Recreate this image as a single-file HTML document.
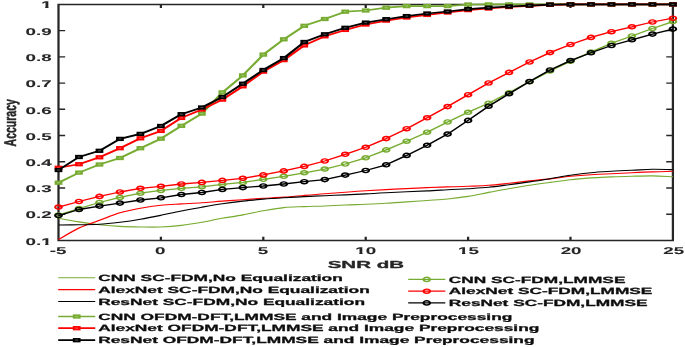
<!DOCTYPE html>
<html><head><meta charset="utf-8"><title>Accuracy vs SNR</title>
<style>html,body{margin:0;padding:0;background:#fff}svg{display:block}text{font-family:"Liberation Sans",Arial,Helvetica,sans-serif;font-weight:bold;text-rendering:geometricPrecision;fill:#262626;stroke:#262626;stroke-width:0.28px;stroke-linejoin:round}.t{stroke-width:0.08px}</style></head><body>
<svg width="685" height="347" viewBox="0 0 685 347">
<rect width="685" height="347" fill="#fff"/>
<defs><clipPath id="one" clipPathUnits="userSpaceOnUse"><path d="M-60,-14H60V-1.320H-60ZM-3.363,-1.420H-1.618V3H-3.363ZM0.127,-1.420H60V3H0.127ZM-60,-1.420H-5.233V3H-60Z"/></clipPath></defs>
<defs><filter id="b" x="0" y="0" width="685" height="347" filterUnits="userSpaceOnUse"><feGaussianBlur stdDeviation="0.45"/></filter></defs><g filter="url(#b)">
<g transform="scale(1.55,1)">
<path d="M37.74,4.4H434.13V240.5H37.74ZM37.74,214.27h4.3M434.13,214.27h-4.3M37.74,188.03h4.3M434.13,188.03h-4.3M37.74,161.80h4.3M434.13,161.80h-4.3M37.74,135.57h4.3M434.13,135.57h-4.3M37.74,109.33h4.3M434.13,109.33h-4.3M37.74,83.10h4.3M434.13,83.10h-4.3M37.74,56.87h4.3M434.13,56.87h-4.3M37.74,30.63h4.3M434.13,30.63h-4.3M103.81,240.5v-3.7M103.81,4.4v3.7M169.87,240.5v-3.7M169.87,4.4v3.7M235.94,240.5v-3.7M235.94,4.4v3.7M302.00,240.5v-3.7M302.00,4.4v3.7M368.06,240.5v-3.7M368.06,4.4v3.7" stroke="#262626" fill="none" stroke-width="1.45" stroke-linejoin="miter"/>
<g fill="none" stroke-width="1.1" stroke-linejoin="round">
<path d="M37.74,218.3C39.94,218.9 46.55,220.8 50.95,221.9C55.36,223.0 59.76,223.9 64.17,224.7C68.57,225.4 72.98,226.0 77.38,226.4C81.78,226.8 86.19,226.9 90.59,227.0C95.00,227.1 99.40,227.3 103.81,227.0C108.21,226.7 112.62,226.2 117.02,225.4C121.42,224.6 125.83,223.5 130.23,222.3C134.64,221.1 139.04,219.5 143.45,218.3C147.85,217.1 152.25,216.2 156.66,214.9C161.06,213.7 165.47,212.0 169.87,210.8C174.28,209.6 178.68,208.3 183.08,207.6C187.49,206.9 191.89,206.9 196.30,206.6C200.70,206.3 205.11,206.3 209.51,206.0C213.91,205.7 218.32,205.3 222.72,205.0C227.13,204.7 231.53,204.6 235.94,204.3C240.34,204.0 244.74,203.7 249.15,203.3C253.55,202.9 257.96,202.4 262.36,201.9C266.77,201.4 271.17,201.0 275.57,200.5C279.98,200.0 284.38,199.7 288.79,199.0C293.19,198.3 297.60,197.5 302.00,196.4C306.40,195.3 310.81,193.7 315.21,192.4C319.62,191.1 324.02,189.9 328.43,188.7C332.83,187.5 337.23,186.4 341.64,185.3C346.04,184.2 350.45,183.3 354.85,182.4C359.26,181.5 363.66,180.4 368.06,179.7C372.47,178.9 376.87,178.4 381.28,177.9C385.68,177.4 390.09,177.2 394.49,176.9C398.89,176.6 403.30,176.5 407.70,176.3C412.11,176.1 416.51,175.8 420.92,175.9C425.32,176.0 431.93,176.6 434.13,176.7" stroke="#77AC30"/>
<path d="M37.74,239.5C39.94,237.6 46.55,231.2 50.95,228.0C55.36,224.8 59.76,222.8 64.17,220.3C68.57,217.8 72.98,214.8 77.38,212.8C81.78,210.8 86.19,209.5 90.59,208.2C95.00,206.9 99.40,205.9 103.81,205.2C108.21,204.5 112.62,204.3 117.02,203.9C121.42,203.5 125.83,203.3 130.23,202.8C134.64,202.3 139.04,201.6 143.45,201.1C147.85,200.6 152.25,200.2 156.66,199.7C161.06,199.2 165.47,198.7 169.87,198.3C174.28,197.9 178.68,197.6 183.08,197.1C187.49,196.6 191.89,196.0 196.30,195.4C200.70,194.8 205.11,194.2 209.51,193.7C213.91,193.2 218.32,192.7 222.72,192.2C227.13,191.7 231.53,191.2 235.94,190.8C240.34,190.4 244.74,190.0 249.15,189.6C253.55,189.2 257.96,188.9 262.36,188.6C266.77,188.3 271.17,187.9 275.57,187.6C279.98,187.3 284.38,187.1 288.79,186.9C293.19,186.7 297.60,186.6 302.00,186.3C306.40,186.0 310.81,185.8 315.21,185.3C319.62,184.8 324.02,184.0 328.43,183.3C332.83,182.6 337.23,181.6 341.64,180.9C346.04,180.2 350.45,179.7 354.85,178.9C359.26,178.1 363.66,177.0 368.06,176.3C372.47,175.6 376.87,175.1 381.28,174.7C385.68,174.3 390.09,174.0 394.49,173.7C398.89,173.4 403.30,173.0 407.70,172.7C412.11,172.4 416.51,172.1 420.92,171.9C425.32,171.7 431.93,171.4 434.13,171.3" stroke="#FF0000"/>
<path d="M37.74,225.0C39.94,225.0 46.55,224.9 50.95,224.8C55.36,224.7 59.76,224.7 64.17,224.3C68.57,223.9 72.98,223.1 77.38,222.3C81.78,221.5 86.19,220.5 90.59,219.3C95.00,218.1 99.40,216.7 103.81,215.3C108.21,213.9 112.62,212.3 117.02,211.0C121.42,209.7 125.83,208.4 130.23,207.2C134.64,206.0 139.04,204.8 143.45,203.8C147.85,202.8 152.25,201.9 156.66,201.1C161.06,200.3 165.47,199.7 169.87,199.1C174.28,198.5 178.68,198.1 183.08,197.7C187.49,197.3 191.89,196.9 196.30,196.6C200.70,196.3 205.11,196.0 209.51,195.7C213.91,195.4 218.32,195.2 222.72,194.9C227.13,194.6 231.53,194.2 235.94,193.9C240.34,193.6 244.74,193.2 249.15,192.8C253.55,192.5 257.96,192.1 262.36,191.8C266.77,191.5 271.17,191.2 275.57,190.9C279.98,190.6 284.38,190.1 288.79,189.7C293.19,189.3 297.60,189.1 302.00,188.7C306.40,188.3 310.81,188.0 315.21,187.3C319.62,186.6 324.02,185.6 328.43,184.7C332.83,183.8 337.23,182.9 341.64,181.9C346.04,180.9 350.45,179.8 354.85,178.7C359.26,177.6 363.66,176.3 368.06,175.3C372.47,174.3 376.87,173.4 381.28,172.7C385.68,172.0 390.09,171.7 394.49,171.3C398.89,170.9 403.30,170.6 407.70,170.3C412.11,170.0 416.51,169.4 420.92,169.3C425.32,169.2 431.93,169.6 434.13,169.7" stroke="#000000"/>
</g>
<g stroke="#77AC30" fill="none"><polyline points="37.74,215.0 50.95,208.5 64.17,202.5 77.38,197.4 90.59,193.2 103.81,190.4 117.02,188.3 130.23,186.8 143.45,184.4 156.66,182.4 169.87,179.3 183.08,176.3 196.30,172.8 209.51,169.1 222.72,164.0 235.94,157.8 249.15,149.9 262.36,141.2 275.57,132.2 288.79,122.0 302.00,112.3 315.21,103.2 328.43,92.8 341.64,81.7 354.85,71.0 368.06,61.3 381.28,52.1 394.49,43.3 407.70,36.0 420.92,28.5 434.13,21.6" stroke-width="1.3" stroke-linejoin="round"/><g stroke-width="1.4"><circle cx="37.74" cy="215.0" r="2.1"/><circle cx="50.95" cy="208.5" r="2.1"/><circle cx="64.17" cy="202.5" r="2.1"/><circle cx="77.38" cy="197.4" r="2.1"/><circle cx="90.59" cy="193.2" r="2.1"/><circle cx="103.81" cy="190.4" r="2.1"/><circle cx="117.02" cy="188.3" r="2.1"/><circle cx="130.23" cy="186.8" r="2.1"/><circle cx="143.45" cy="184.4" r="2.1"/><circle cx="156.66" cy="182.4" r="2.1"/><circle cx="169.87" cy="179.3" r="2.1"/><circle cx="183.08" cy="176.3" r="2.1"/><circle cx="196.30" cy="172.8" r="2.1"/><circle cx="209.51" cy="169.1" r="2.1"/><circle cx="222.72" cy="164.0" r="2.1"/><circle cx="235.94" cy="157.8" r="2.1"/><circle cx="249.15" cy="149.9" r="2.1"/><circle cx="262.36" cy="141.2" r="2.1"/><circle cx="275.57" cy="132.2" r="2.1"/><circle cx="288.79" cy="122.0" r="2.1"/><circle cx="302.00" cy="112.3" r="2.1"/><circle cx="315.21" cy="103.2" r="2.1"/><circle cx="328.43" cy="92.8" r="2.1"/><circle cx="341.64" cy="81.7" r="2.1"/><circle cx="354.85" cy="71.0" r="2.1"/><circle cx="368.06" cy="61.3" r="2.1"/><circle cx="381.28" cy="52.1" r="2.1"/><circle cx="394.49" cy="43.3" r="2.1"/><circle cx="407.70" cy="36.0" r="2.1"/><circle cx="420.92" cy="28.5" r="2.1"/><circle cx="434.13" cy="21.6" r="2.1"/></g></g>
<g stroke="#FF0000" fill="none"><polyline points="37.74,207.1 50.95,201.5 64.17,196.4 77.38,192.0 90.59,188.3 103.81,186.3 117.02,184.0 130.23,182.4 143.45,180.4 156.66,178.3 169.87,174.9 183.08,170.9 196.30,166.4 209.51,161.0 222.72,154.3 235.94,147.3 249.15,138.6 262.36,128.7 275.57,117.8 288.79,106.6 302.00,94.7 315.21,83.0 328.43,72.4 341.64,62.0 354.85,52.6 368.06,44.5 381.28,37.4 394.49,31.7 407.70,26.8 420.92,22.0 434.13,18.2" stroke-width="1.3" stroke-linejoin="round"/><g stroke-width="1.4"><circle cx="37.74" cy="207.1" r="2.1"/><circle cx="50.95" cy="201.5" r="2.1"/><circle cx="64.17" cy="196.4" r="2.1"/><circle cx="77.38" cy="192.0" r="2.1"/><circle cx="90.59" cy="188.3" r="2.1"/><circle cx="103.81" cy="186.3" r="2.1"/><circle cx="117.02" cy="184.0" r="2.1"/><circle cx="130.23" cy="182.4" r="2.1"/><circle cx="143.45" cy="180.4" r="2.1"/><circle cx="156.66" cy="178.3" r="2.1"/><circle cx="169.87" cy="174.9" r="2.1"/><circle cx="183.08" cy="170.9" r="2.1"/><circle cx="196.30" cy="166.4" r="2.1"/><circle cx="209.51" cy="161.0" r="2.1"/><circle cx="222.72" cy="154.3" r="2.1"/><circle cx="235.94" cy="147.3" r="2.1"/><circle cx="249.15" cy="138.6" r="2.1"/><circle cx="262.36" cy="128.7" r="2.1"/><circle cx="275.57" cy="117.8" r="2.1"/><circle cx="288.79" cy="106.6" r="2.1"/><circle cx="302.00" cy="94.7" r="2.1"/><circle cx="315.21" cy="83.0" r="2.1"/><circle cx="328.43" cy="72.4" r="2.1"/><circle cx="341.64" cy="62.0" r="2.1"/><circle cx="354.85" cy="52.6" r="2.1"/><circle cx="368.06" cy="44.5" r="2.1"/><circle cx="381.28" cy="37.4" r="2.1"/><circle cx="394.49" cy="31.7" r="2.1"/><circle cx="407.70" cy="26.8" r="2.1"/><circle cx="420.92" cy="22.0" r="2.1"/><circle cx="434.13" cy="18.2" r="2.1"/></g></g>
<g stroke="#000000" fill="none"><polyline points="37.74,215.6 50.95,209.5 64.17,206.1 77.38,203.1 90.59,200.0 103.81,197.8 117.02,194.5 130.23,192.5 143.45,189.4 156.66,187.6 169.87,186.0 183.08,184.0 196.30,181.7 209.51,179.6 222.72,175.1 235.94,170.5 249.15,164.8 262.36,155.4 275.57,145.3 288.79,134.1 302.00,120.4 315.21,106.2 328.43,93.7 341.64,81.6 354.85,70.0 368.06,60.6 381.28,52.8 394.49,45.5 407.70,39.8 420.92,34.1 434.13,29.1" stroke-width="1.3" stroke-linejoin="round"/><g stroke-width="1.4"><circle cx="37.74" cy="215.6" r="2.1"/><circle cx="50.95" cy="209.5" r="2.1"/><circle cx="64.17" cy="206.1" r="2.1"/><circle cx="77.38" cy="203.1" r="2.1"/><circle cx="90.59" cy="200.0" r="2.1"/><circle cx="103.81" cy="197.8" r="2.1"/><circle cx="117.02" cy="194.5" r="2.1"/><circle cx="130.23" cy="192.5" r="2.1"/><circle cx="143.45" cy="189.4" r="2.1"/><circle cx="156.66" cy="187.6" r="2.1"/><circle cx="169.87" cy="186.0" r="2.1"/><circle cx="183.08" cy="184.0" r="2.1"/><circle cx="196.30" cy="181.7" r="2.1"/><circle cx="209.51" cy="179.6" r="2.1"/><circle cx="222.72" cy="175.1" r="2.1"/><circle cx="235.94" cy="170.5" r="2.1"/><circle cx="249.15" cy="164.8" r="2.1"/><circle cx="262.36" cy="155.4" r="2.1"/><circle cx="275.57" cy="145.3" r="2.1"/><circle cx="288.79" cy="134.1" r="2.1"/><circle cx="302.00" cy="120.4" r="2.1"/><circle cx="315.21" cy="106.2" r="2.1"/><circle cx="328.43" cy="93.7" r="2.1"/><circle cx="341.64" cy="81.6" r="2.1"/><circle cx="354.85" cy="70.0" r="2.1"/><circle cx="368.06" cy="60.6" r="2.1"/><circle cx="381.28" cy="52.8" r="2.1"/><circle cx="394.49" cy="45.5" r="2.1"/><circle cx="407.70" cy="39.8" r="2.1"/><circle cx="420.92" cy="34.1" r="2.1"/><circle cx="434.13" cy="29.1" r="2.1"/></g></g>
<polyline points="37.74,182.7 50.95,172.6 64.17,164.5 77.38,158.0 90.59,148.2 103.81,138.7 117.02,125.8 130.23,113.6 143.45,92.4 156.66,75.4 169.87,54.6 183.08,39.3 196.30,25.8 209.51,19.0 222.72,11.7 235.94,10.5 249.15,7.7 262.36,6.1 275.57,6.1 288.79,6.1 302.00,4.5 315.21,4.4 328.43,4.4 341.64,4.4 354.85,4.4 368.06,4.4 381.28,4.4 394.49,4.4 407.70,4.4 420.92,4.4 434.13,4.4" stroke="#77AC30" fill="none" stroke-width="1.7" stroke-linejoin="round"/><g><rect x="35.24" y="180.55" width="5.0" height="4.3" fill="#77AC30"/><rect x="36.84" y="182.15" width="1.8" height="1.1" fill="#fff" fill-opacity="0.3"/><rect x="48.45" y="170.45" width="5.0" height="4.3" fill="#77AC30"/><rect x="50.05" y="172.05" width="1.8" height="1.1" fill="#fff" fill-opacity="0.3"/><rect x="61.67" y="162.35" width="5.0" height="4.3" fill="#77AC30"/><rect x="63.27" y="163.95" width="1.8" height="1.1" fill="#fff" fill-opacity="0.3"/><rect x="74.88" y="155.85" width="5.0" height="4.3" fill="#77AC30"/><rect x="76.48" y="157.45" width="1.8" height="1.1" fill="#fff" fill-opacity="0.3"/><rect x="88.09" y="146.05" width="5.0" height="4.3" fill="#77AC30"/><rect x="89.69" y="147.65" width="1.8" height="1.1" fill="#fff" fill-opacity="0.3"/><rect x="101.31" y="136.55" width="5.0" height="4.3" fill="#77AC30"/><rect x="102.91" y="138.15" width="1.8" height="1.1" fill="#fff" fill-opacity="0.3"/><rect x="114.52" y="123.65" width="5.0" height="4.3" fill="#77AC30"/><rect x="116.12" y="125.25" width="1.8" height="1.1" fill="#fff" fill-opacity="0.3"/><rect x="127.73" y="111.45" width="5.0" height="4.3" fill="#77AC30"/><rect x="129.33" y="113.05" width="1.8" height="1.1" fill="#fff" fill-opacity="0.3"/><rect x="140.95" y="90.25" width="5.0" height="4.3" fill="#77AC30"/><rect x="142.55" y="91.85" width="1.8" height="1.1" fill="#fff" fill-opacity="0.3"/><rect x="154.16" y="73.25" width="5.0" height="4.3" fill="#77AC30"/><rect x="155.76" y="74.85" width="1.8" height="1.1" fill="#fff" fill-opacity="0.3"/><rect x="167.37" y="52.45" width="5.0" height="4.3" fill="#77AC30"/><rect x="168.97" y="54.05" width="1.8" height="1.1" fill="#fff" fill-opacity="0.3"/><rect x="180.58" y="37.15" width="5.0" height="4.3" fill="#77AC30"/><rect x="182.18" y="38.75" width="1.8" height="1.1" fill="#fff" fill-opacity="0.3"/><rect x="193.80" y="23.65" width="5.0" height="4.3" fill="#77AC30"/><rect x="195.40" y="25.25" width="1.8" height="1.1" fill="#fff" fill-opacity="0.3"/><rect x="207.01" y="16.85" width="5.0" height="4.3" fill="#77AC30"/><rect x="208.61" y="18.45" width="1.8" height="1.1" fill="#fff" fill-opacity="0.3"/><rect x="220.22" y="9.55" width="5.0" height="4.3" fill="#77AC30"/><rect x="221.82" y="11.15" width="1.8" height="1.1" fill="#fff" fill-opacity="0.3"/><rect x="233.44" y="8.35" width="5.0" height="4.3" fill="#77AC30"/><rect x="235.04" y="9.95" width="1.8" height="1.1" fill="#fff" fill-opacity="0.3"/><rect x="246.65" y="5.55" width="5.0" height="4.3" fill="#77AC30"/><rect x="248.25" y="7.15" width="1.8" height="1.1" fill="#fff" fill-opacity="0.3"/><rect x="259.86" y="3.95" width="5.0" height="4.3" fill="#77AC30"/><rect x="261.46" y="5.55" width="1.8" height="1.1" fill="#fff" fill-opacity="0.3"/><rect x="273.07" y="3.95" width="5.0" height="4.3" fill="#77AC30"/><rect x="274.67" y="5.55" width="1.8" height="1.1" fill="#fff" fill-opacity="0.3"/><rect x="286.29" y="3.95" width="5.0" height="4.3" fill="#77AC30"/><rect x="287.89" y="5.55" width="1.8" height="1.1" fill="#fff" fill-opacity="0.3"/><rect x="299.50" y="2.35" width="5.0" height="4.3" fill="#77AC30"/><rect x="301.10" y="3.95" width="1.8" height="1.1" fill="#fff" fill-opacity="0.3"/><rect x="312.71" y="2.25" width="5.0" height="4.3" fill="#77AC30"/><rect x="314.31" y="3.85" width="1.8" height="1.1" fill="#fff" fill-opacity="0.3"/><rect x="325.93" y="2.25" width="5.0" height="4.3" fill="#77AC30"/><rect x="327.53" y="3.85" width="1.8" height="1.1" fill="#fff" fill-opacity="0.3"/><rect x="339.14" y="2.25" width="5.0" height="4.3" fill="#77AC30"/><rect x="340.74" y="3.85" width="1.8" height="1.1" fill="#fff" fill-opacity="0.3"/><rect x="352.35" y="2.25" width="5.0" height="4.3" fill="#77AC30"/><rect x="353.95" y="3.85" width="1.8" height="1.1" fill="#fff" fill-opacity="0.3"/><rect x="365.56" y="2.25" width="5.0" height="4.3" fill="#77AC30"/><rect x="367.16" y="3.85" width="1.8" height="1.1" fill="#fff" fill-opacity="0.3"/><rect x="378.78" y="2.25" width="5.0" height="4.3" fill="#77AC30"/><rect x="380.38" y="3.85" width="1.8" height="1.1" fill="#fff" fill-opacity="0.3"/><rect x="391.99" y="2.25" width="5.0" height="4.3" fill="#77AC30"/><rect x="393.59" y="3.85" width="1.8" height="1.1" fill="#fff" fill-opacity="0.3"/><rect x="405.20" y="2.25" width="5.0" height="4.3" fill="#77AC30"/><rect x="406.80" y="3.85" width="1.8" height="1.1" fill="#fff" fill-opacity="0.3"/><rect x="418.42" y="2.25" width="5.0" height="4.3" fill="#77AC30"/><rect x="420.02" y="3.85" width="1.8" height="1.1" fill="#fff" fill-opacity="0.3"/><rect x="431.63" y="2.25" width="5.0" height="4.3" fill="#77AC30"/><rect x="433.23" y="3.85" width="1.8" height="1.1" fill="#fff" fill-opacity="0.3"/></g>
<polyline points="37.74,167.8 50.95,164.2 64.17,157.3 77.38,148.2 90.59,138.3 103.81,130.9 117.02,117.9 130.23,109.5 143.45,99.6 156.66,86.3 169.87,71.6 183.08,60.1 196.30,45.4 209.51,36.3 222.72,29.9 235.94,24.5 249.15,20.6 262.36,17.5 275.57,14.9 288.79,12.5 302.00,10.1 315.21,8.5 328.43,7.0 341.64,5.8 354.85,4.8 368.06,4.4 381.28,4.4 394.49,4.4 407.70,4.4 420.92,4.4 434.13,4.4" stroke="#FF0000" fill="none" stroke-width="1.7" stroke-linejoin="round"/><g><rect x="35.24" y="165.65" width="5.0" height="4.3" fill="#FF0000"/><rect x="36.84" y="167.25" width="1.8" height="1.1" fill="#fff" fill-opacity="0.3"/><rect x="48.45" y="162.05" width="5.0" height="4.3" fill="#FF0000"/><rect x="50.05" y="163.65" width="1.8" height="1.1" fill="#fff" fill-opacity="0.3"/><rect x="61.67" y="155.15" width="5.0" height="4.3" fill="#FF0000"/><rect x="63.27" y="156.75" width="1.8" height="1.1" fill="#fff" fill-opacity="0.3"/><rect x="74.88" y="146.05" width="5.0" height="4.3" fill="#FF0000"/><rect x="76.48" y="147.65" width="1.8" height="1.1" fill="#fff" fill-opacity="0.3"/><rect x="88.09" y="136.15" width="5.0" height="4.3" fill="#FF0000"/><rect x="89.69" y="137.75" width="1.8" height="1.1" fill="#fff" fill-opacity="0.3"/><rect x="101.31" y="128.75" width="5.0" height="4.3" fill="#FF0000"/><rect x="102.91" y="130.35" width="1.8" height="1.1" fill="#fff" fill-opacity="0.3"/><rect x="114.52" y="115.75" width="5.0" height="4.3" fill="#FF0000"/><rect x="116.12" y="117.35" width="1.8" height="1.1" fill="#fff" fill-opacity="0.3"/><rect x="127.73" y="107.35" width="5.0" height="4.3" fill="#FF0000"/><rect x="129.33" y="108.95" width="1.8" height="1.1" fill="#fff" fill-opacity="0.3"/><rect x="140.95" y="97.45" width="5.0" height="4.3" fill="#FF0000"/><rect x="142.55" y="99.05" width="1.8" height="1.1" fill="#fff" fill-opacity="0.3"/><rect x="154.16" y="84.15" width="5.0" height="4.3" fill="#FF0000"/><rect x="155.76" y="85.75" width="1.8" height="1.1" fill="#fff" fill-opacity="0.3"/><rect x="167.37" y="69.45" width="5.0" height="4.3" fill="#FF0000"/><rect x="168.97" y="71.05" width="1.8" height="1.1" fill="#fff" fill-opacity="0.3"/><rect x="180.58" y="57.95" width="5.0" height="4.3" fill="#FF0000"/><rect x="182.18" y="59.55" width="1.8" height="1.1" fill="#fff" fill-opacity="0.3"/><rect x="193.80" y="43.25" width="5.0" height="4.3" fill="#FF0000"/><rect x="195.40" y="44.85" width="1.8" height="1.1" fill="#fff" fill-opacity="0.3"/><rect x="207.01" y="34.15" width="5.0" height="4.3" fill="#FF0000"/><rect x="208.61" y="35.75" width="1.8" height="1.1" fill="#fff" fill-opacity="0.3"/><rect x="220.22" y="27.75" width="5.0" height="4.3" fill="#FF0000"/><rect x="221.82" y="29.35" width="1.8" height="1.1" fill="#fff" fill-opacity="0.3"/><rect x="233.44" y="22.35" width="5.0" height="4.3" fill="#FF0000"/><rect x="235.04" y="23.95" width="1.8" height="1.1" fill="#fff" fill-opacity="0.3"/><rect x="246.65" y="18.45" width="5.0" height="4.3" fill="#FF0000"/><rect x="248.25" y="20.05" width="1.8" height="1.1" fill="#fff" fill-opacity="0.3"/><rect x="259.86" y="15.35" width="5.0" height="4.3" fill="#FF0000"/><rect x="261.46" y="16.95" width="1.8" height="1.1" fill="#fff" fill-opacity="0.3"/><rect x="273.07" y="12.75" width="5.0" height="4.3" fill="#FF0000"/><rect x="274.67" y="14.35" width="1.8" height="1.1" fill="#fff" fill-opacity="0.3"/><rect x="286.29" y="10.35" width="5.0" height="4.3" fill="#FF0000"/><rect x="287.89" y="11.95" width="1.8" height="1.1" fill="#fff" fill-opacity="0.3"/><rect x="299.50" y="7.95" width="5.0" height="4.3" fill="#FF0000"/><rect x="301.10" y="9.55" width="1.8" height="1.1" fill="#fff" fill-opacity="0.3"/><rect x="312.71" y="6.35" width="5.0" height="4.3" fill="#FF0000"/><rect x="314.31" y="7.95" width="1.8" height="1.1" fill="#fff" fill-opacity="0.3"/><rect x="325.93" y="4.85" width="5.0" height="4.3" fill="#FF0000"/><rect x="327.53" y="6.45" width="1.8" height="1.1" fill="#fff" fill-opacity="0.3"/><rect x="339.14" y="3.65" width="5.0" height="4.3" fill="#FF0000"/><rect x="340.74" y="5.25" width="1.8" height="1.1" fill="#fff" fill-opacity="0.3"/><rect x="352.35" y="2.65" width="5.0" height="4.3" fill="#FF0000"/><rect x="353.95" y="4.25" width="1.8" height="1.1" fill="#fff" fill-opacity="0.3"/><rect x="365.56" y="2.25" width="5.0" height="4.3" fill="#FF0000"/><rect x="367.16" y="3.85" width="1.8" height="1.1" fill="#fff" fill-opacity="0.3"/><rect x="378.78" y="2.25" width="5.0" height="4.3" fill="#FF0000"/><rect x="380.38" y="3.85" width="1.8" height="1.1" fill="#fff" fill-opacity="0.3"/><rect x="391.99" y="2.25" width="5.0" height="4.3" fill="#FF0000"/><rect x="393.59" y="3.85" width="1.8" height="1.1" fill="#fff" fill-opacity="0.3"/><rect x="405.20" y="2.25" width="5.0" height="4.3" fill="#FF0000"/><rect x="406.80" y="3.85" width="1.8" height="1.1" fill="#fff" fill-opacity="0.3"/><rect x="418.42" y="2.25" width="5.0" height="4.3" fill="#FF0000"/><rect x="420.02" y="3.85" width="1.8" height="1.1" fill="#fff" fill-opacity="0.3"/><rect x="431.63" y="2.25" width="5.0" height="4.3" fill="#FF0000"/><rect x="433.23" y="3.85" width="1.8" height="1.1" fill="#fff" fill-opacity="0.3"/></g>
<polyline points="37.74,170.0 50.95,157.0 64.17,150.8 77.38,138.9 90.59,133.9 103.81,126.0 117.02,114.2 130.23,107.5 143.45,97.0 156.66,83.7 169.87,70.0 183.08,58.1 196.30,42.0 209.51,34.3 222.72,27.8 235.94,22.6 249.15,19.2 262.36,16.1 275.57,13.5 288.79,11.5 302.00,9.1 315.21,7.7 328.43,6.5 341.64,5.6 354.85,4.6 368.06,4.4 381.28,4.4 394.49,4.4 407.70,4.4 420.92,4.4 434.13,4.4" stroke="#000000" fill="none" stroke-width="1.7" stroke-linejoin="round"/><g><rect x="35.24" y="167.85" width="5.0" height="4.3" fill="#000000"/><rect x="36.84" y="169.45" width="1.8" height="1.1" fill="#fff" fill-opacity="0.3"/><rect x="48.45" y="154.85" width="5.0" height="4.3" fill="#000000"/><rect x="50.05" y="156.45" width="1.8" height="1.1" fill="#fff" fill-opacity="0.3"/><rect x="61.67" y="148.65" width="5.0" height="4.3" fill="#000000"/><rect x="63.27" y="150.25" width="1.8" height="1.1" fill="#fff" fill-opacity="0.3"/><rect x="74.88" y="136.75" width="5.0" height="4.3" fill="#000000"/><rect x="76.48" y="138.35" width="1.8" height="1.1" fill="#fff" fill-opacity="0.3"/><rect x="88.09" y="131.75" width="5.0" height="4.3" fill="#000000"/><rect x="89.69" y="133.35" width="1.8" height="1.1" fill="#fff" fill-opacity="0.3"/><rect x="101.31" y="123.85" width="5.0" height="4.3" fill="#000000"/><rect x="102.91" y="125.45" width="1.8" height="1.1" fill="#fff" fill-opacity="0.3"/><rect x="114.52" y="112.05" width="5.0" height="4.3" fill="#000000"/><rect x="116.12" y="113.65" width="1.8" height="1.1" fill="#fff" fill-opacity="0.3"/><rect x="127.73" y="105.35" width="5.0" height="4.3" fill="#000000"/><rect x="129.33" y="106.95" width="1.8" height="1.1" fill="#fff" fill-opacity="0.3"/><rect x="140.95" y="94.85" width="5.0" height="4.3" fill="#000000"/><rect x="142.55" y="96.45" width="1.8" height="1.1" fill="#fff" fill-opacity="0.3"/><rect x="154.16" y="81.55" width="5.0" height="4.3" fill="#000000"/><rect x="155.76" y="83.15" width="1.8" height="1.1" fill="#fff" fill-opacity="0.3"/><rect x="167.37" y="67.85" width="5.0" height="4.3" fill="#000000"/><rect x="168.97" y="69.45" width="1.8" height="1.1" fill="#fff" fill-opacity="0.3"/><rect x="180.58" y="55.95" width="5.0" height="4.3" fill="#000000"/><rect x="182.18" y="57.55" width="1.8" height="1.1" fill="#fff" fill-opacity="0.3"/><rect x="193.80" y="39.85" width="5.0" height="4.3" fill="#000000"/><rect x="195.40" y="41.45" width="1.8" height="1.1" fill="#fff" fill-opacity="0.3"/><rect x="207.01" y="32.15" width="5.0" height="4.3" fill="#000000"/><rect x="208.61" y="33.75" width="1.8" height="1.1" fill="#fff" fill-opacity="0.3"/><rect x="220.22" y="25.65" width="5.0" height="4.3" fill="#000000"/><rect x="221.82" y="27.25" width="1.8" height="1.1" fill="#fff" fill-opacity="0.3"/><rect x="233.44" y="20.45" width="5.0" height="4.3" fill="#000000"/><rect x="235.04" y="22.05" width="1.8" height="1.1" fill="#fff" fill-opacity="0.3"/><rect x="246.65" y="17.05" width="5.0" height="4.3" fill="#000000"/><rect x="248.25" y="18.65" width="1.8" height="1.1" fill="#fff" fill-opacity="0.3"/><rect x="259.86" y="13.95" width="5.0" height="4.3" fill="#000000"/><rect x="261.46" y="15.55" width="1.8" height="1.1" fill="#fff" fill-opacity="0.3"/><rect x="273.07" y="11.35" width="5.0" height="4.3" fill="#000000"/><rect x="274.67" y="12.95" width="1.8" height="1.1" fill="#fff" fill-opacity="0.3"/><rect x="286.29" y="9.35" width="5.0" height="4.3" fill="#000000"/><rect x="287.89" y="10.95" width="1.8" height="1.1" fill="#fff" fill-opacity="0.3"/><rect x="299.50" y="6.95" width="5.0" height="4.3" fill="#000000"/><rect x="301.10" y="8.55" width="1.8" height="1.1" fill="#fff" fill-opacity="0.3"/><rect x="312.71" y="5.55" width="5.0" height="4.3" fill="#000000"/><rect x="314.31" y="7.15" width="1.8" height="1.1" fill="#fff" fill-opacity="0.3"/><rect x="325.93" y="4.35" width="5.0" height="4.3" fill="#000000"/><rect x="327.53" y="5.95" width="1.8" height="1.1" fill="#fff" fill-opacity="0.3"/><rect x="339.14" y="3.45" width="5.0" height="4.3" fill="#000000"/><rect x="340.74" y="5.05" width="1.8" height="1.1" fill="#fff" fill-opacity="0.3"/><rect x="352.35" y="2.45" width="5.0" height="4.3" fill="#000000"/><rect x="353.95" y="4.05" width="1.8" height="1.1" fill="#fff" fill-opacity="0.3"/><rect x="365.56" y="2.25" width="5.0" height="4.3" fill="#000000"/><rect x="367.16" y="3.85" width="1.8" height="1.1" fill="#fff" fill-opacity="0.3"/><rect x="378.78" y="2.25" width="5.0" height="4.3" fill="#000000"/><rect x="380.38" y="3.85" width="1.8" height="1.1" fill="#fff" fill-opacity="0.3"/><rect x="391.99" y="2.25" width="5.0" height="4.3" fill="#000000"/><rect x="393.59" y="3.85" width="1.8" height="1.1" fill="#fff" fill-opacity="0.3"/><rect x="405.20" y="2.25" width="5.0" height="4.3" fill="#000000"/><rect x="406.80" y="3.85" width="1.8" height="1.1" fill="#fff" fill-opacity="0.3"/><rect x="418.42" y="2.25" width="5.0" height="4.3" fill="#000000"/><rect x="420.02" y="3.85" width="1.8" height="1.1" fill="#fff" fill-opacity="0.3"/><rect x="431.63" y="2.25" width="5.0" height="4.3" fill="#000000"/><rect x="433.23" y="3.85" width="1.8" height="1.1" fill="#fff" fill-opacity="0.3"/></g>
<path d="M37.55,277.8H61.42" stroke="#77AC30" stroke-width="1.1"/>
<path d="M37.55,289.6H61.42" stroke="#FF0000" stroke-width="1.1"/>
<path d="M37.55,301.5H61.42" stroke="#000000" stroke-width="1.1"/>
<path d="M37.55,316.5H61.42" stroke="#77AC30" stroke-width="1.7"/>
<rect x="46.98" y="314.35" width="5.0" height="4.3" fill="#77AC30"/><rect x="48.58" y="315.95" width="1.8" height="1.1" fill="#fff" fill-opacity="0.3"/>
<path d="M37.55,328.2H61.42" stroke="#FF0000" stroke-width="1.7"/>
<rect x="46.98" y="326.05" width="5.0" height="4.3" fill="#FF0000"/><rect x="48.58" y="327.65" width="1.8" height="1.1" fill="#fff" fill-opacity="0.3"/>
<path d="M37.55,340.2H61.42" stroke="#000000" stroke-width="1.7"/>
<rect x="46.98" y="338.05" width="5.0" height="4.3" fill="#000000"/><rect x="48.58" y="339.65" width="1.8" height="1.1" fill="#fff" fill-opacity="0.3"/>
<g stroke="#77AC30" fill="none"><path d="M263.35,279.4H287.29" stroke-width="1.3"/><g stroke-width="1.4"><circle cx="275.32" cy="279.4" r="2.1"/></g></g>
<g stroke="#FF0000" fill="none"><path d="M263.35,291.2H287.29" stroke-width="1.3"/><g stroke-width="1.4"><circle cx="275.32" cy="291.2" r="2.1"/></g></g>
<g stroke="#000000" fill="none"><path d="M263.35,302.9H287.29" stroke-width="1.3"/><g stroke-width="1.4"><circle cx="275.32" cy="302.9" r="2.1"/></g></g>
</g>
<text transform="translate(51.60,244.70) scale(1.915,1)" font-size="9.8" text-anchor="end" class="t" clip-path="url(#one)">0.1</text>
<text transform="translate(51.60,218.47) scale(1.915,1)" font-size="9.8" text-anchor="end" class="t">0.2</text>
<text transform="translate(51.60,192.23) scale(1.915,1)" font-size="9.8" text-anchor="end" class="t">0.3</text>
<text transform="translate(51.60,166.00) scale(1.915,1)" font-size="9.8" text-anchor="end" class="t">0.4</text>
<text transform="translate(51.60,139.77) scale(1.915,1)" font-size="9.8" text-anchor="end" class="t">0.5</text>
<text transform="translate(51.60,113.53) scale(1.915,1)" font-size="9.8" text-anchor="end" class="t">0.6</text>
<text transform="translate(51.60,87.30) scale(1.915,1)" font-size="9.8" text-anchor="end" class="t">0.7</text>
<text transform="translate(51.60,61.07) scale(1.915,1)" font-size="9.8" text-anchor="end" class="t">0.8</text>
<text transform="translate(51.60,34.83) scale(1.915,1)" font-size="9.8" text-anchor="end" class="t">0.9</text>
<text transform="translate(51.60,8.20) scale(1.915,1)" font-size="9.8" text-anchor="end" class="t" clip-path="url(#one)">1</text>
<text transform="translate(58.20,253.70) scale(1.915,1)" font-size="9.8" text-anchor="middle" class="t">-5</text>
<text transform="translate(160.30,253.70) scale(1.915,1)" font-size="9.8" text-anchor="middle" class="t">0</text>
<text transform="translate(263.00,253.70) scale(1.915,1)" font-size="9.8" text-anchor="middle" class="t">5</text>
<text transform="translate(365.70,253.70) scale(1.915,1)" font-size="9.8" text-anchor="middle" class="t" clip-path="url(#one)">10</text>
<text transform="translate(468.40,253.70) scale(1.915,1)" font-size="9.8" text-anchor="middle" class="t" clip-path="url(#one)">15</text>
<text transform="translate(571.10,253.70) scale(1.915,1)" font-size="9.8" text-anchor="middle" class="t">20</text>
<text transform="translate(673.80,253.70) scale(1.915,1)" font-size="9.8" text-anchor="middle" class="t">25</text>
<text transform="translate(365.80,268.40) scale(2.012,1)" font-size="10.2" text-anchor="middle">SNR dB</text>
<text transform="translate(15.9,122.8) rotate(-90) scale(1.05,1.7)" font-size="10" text-anchor="middle">Accuracy</text>
<text transform="translate(98.20,280.90) scale(1.926,1)" font-size="9.0" text-anchor="start" style="fill:#0d0d0d;stroke:#0d0d0d">CNN SC-FDM,No Equalization</text>
<text transform="translate(98.20,292.70) scale(1.926,1)" font-size="9.0" text-anchor="start" style="fill:#0d0d0d;stroke:#0d0d0d">AlexNet SC-FDM,No Equalization</text>
<text transform="translate(98.20,304.60) scale(1.926,1)" font-size="9.0" text-anchor="start" style="fill:#0d0d0d;stroke:#0d0d0d">ResNet SC-FDM,No Equalization</text>
<text transform="translate(98.20,319.60) scale(1.926,1)" font-size="9.0" text-anchor="start" style="fill:#0d0d0d;stroke:#0d0d0d">CNN OFDM-DFT,LMMSE and Image Preprocessing</text>
<text transform="translate(98.20,331.30) scale(1.926,1)" font-size="9.0" text-anchor="start" style="fill:#0d0d0d;stroke:#0d0d0d">AlexNet OFDM-DFT,LMMSE and Image Preprocessing</text>
<text transform="translate(98.20,343.30) scale(1.926,1)" font-size="9.0" text-anchor="start" style="fill:#0d0d0d;stroke:#0d0d0d">ResNet OFDM-DFT,LMMSE and Image Preprocessing</text>
<text transform="translate(448.80,282.50) scale(1.92,1)" font-size="9.0" text-anchor="start" style="fill:#0d0d0d;stroke:#0d0d0d">CNN SC-FDM,LMMSE</text>
<text transform="translate(448.80,294.30) scale(1.92,1)" font-size="9.0" text-anchor="start" style="fill:#0d0d0d;stroke:#0d0d0d">AlexNet SC-FDM,LMMSE</text>
<text transform="translate(448.80,306.00) scale(1.92,1)" font-size="9.0" text-anchor="start" style="fill:#0d0d0d;stroke:#0d0d0d">ResNet SC-FDM,LMMSE</text>
</g></svg></body></html>
